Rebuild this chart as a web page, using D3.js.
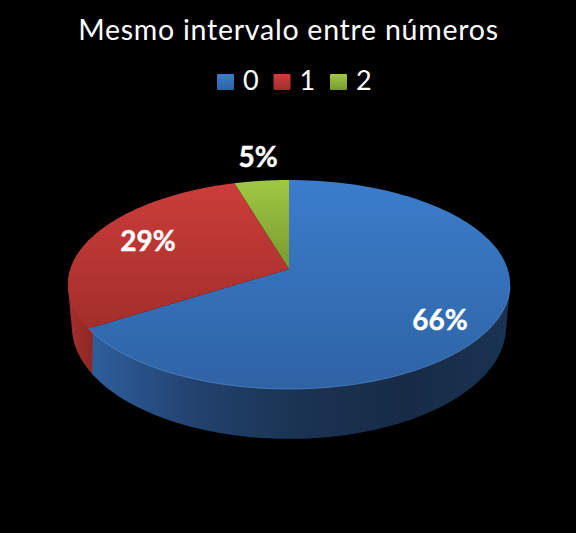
<!DOCTYPE html>
<html><head><meta charset="utf-8">
<script src="https://cdn.jsdelivr.net/npm/d3@7"></script>
<style>html,body{margin:0;padding:0;background:#000}svg{display:block}</style>
</head><body><div id="c"></div>
<script>
const categories = ["0","1","2"];
const values = [66, 29.4, 4.6];
const title = "Mesmo intervalo entre números";
const labelTexts = ["66%","29%","5%"];
const topColors = [["#3b7dcb","#2e63a5"],["#cc3d3a","#a32e2b"],["#a0c843","#78992f"]];
const sideStops = [["#2f5f9e","#22426f","#1a3352","#172b47","#1a3352"],["#a8302d","#8f2724"],["#78992f","#5f7a26"]];

const W=576,H=533,cx=289,cy=269,k=0.1483,ax=218.6,ay=102.2;
const svg=d3.select("#c").append("svg").attr("width",W).attr("height",H);
svg.append("rect").attr("width",W).attr("height",H).attr("fill","#000");
const defs=svg.append("defs");
topColors.forEach((c,i)=>{
  const g=defs.append("linearGradient").attr("id","t"+i).attr("gradientUnits","userSpaceOnUse")
    .attr("x1",0).attr("x2",0).attr("y1",180).attr("y2",389);
  if(i===1){g.attr("y1",180).attr("y2",330)}
  if(i===2){g.attr("y1",180).attr("y2",269)}
  g.append("stop").attr("offset","0%").attr("stop-color",c[0]);
  g.append("stop").attr("offset","100%").attr("stop-color",c[1]);
  const l=defs.append("linearGradient").attr("id","l"+i).attr("x1",0).attr("x2",0).attr("y1",0).attr("y2",1);
  l.append("stop").attr("offset","0%").attr("stop-color",c[0]);
  l.append("stop").attr("offset","100%").attr("stop-color",c[1]);
  const s=defs.append("linearGradient").attr("id","s"+i).attr("gradientUnits","userSpaceOnUse")
    .attr("x1",i===0?88:66).attr("x2",i===0?510:92).attr("y1",0).attr("y2",0);
  sideStops[i].forEach((col,j,a)=>s.append("stop").attr("offset",(j/(a.length-1)*100)+"%").attr("stop-color",col));
});

const proj=(a,bottom)=>{
  const u=Math.sin(a),v=Math.cos(a),w=1+k*v;
  const x=ax*u/w,y=-ay*v/w;
  return bottom?[cx+x*0.982,cy+y*1.074+41]:[cx+x,cy+y];
};
const arcs=d3.pie().sort(null)(values);
const samples=(a0,a1)=>d3.range(0,121).map(i=>a0+(a1-a0)*i/120);
const line=d3.line();

// walls: hull of the top and bottom rims over the front-facing angles
const wallRange=[[Math.PI*0.4,arcs[0].endAngle],[arcs[1].startAngle,Math.PI*1.6]];
wallRange.forEach((r,i)=>{
  const s=samples(r[0],r[1]);
  const pts=s.map(a=>proj(a,false)).concat(s.map(a=>proj(a,true)));
  svg.append("path").attr("d",line(d3.polygonHull(pts))+"Z").attr("fill",`url(#s${i})`);
});
// top slices
arcs.forEach((d,i)=>{
  const pts=[[cx,cy]].concat(samples(d.startAngle,d.endAngle).map(a=>proj(a,false)));
  svg.append("path").attr("d",line(pts)+"Z").attr("fill",`url(#t${i})`);
});
// light rim along the front of the blue slice
svg.append("path").attr("fill","none").attr("stroke","#5b93d6").attr("stroke-opacity",.6).attr("stroke-width",1)
  .attr("d",line(samples(Math.PI*0.55,arcs[0].endAngle).map(a=>proj(a,false))));

// title and legend
const font="Lato, 'Open Sans', sans-serif";
svg.append("text").attr("x",288.5).attr("y",40).attr("text-anchor","middle").attr("fill","#fff")
  .attr("font-family",font).attr("font-size",28.5).attr("letter-spacing",0.75).text(title);
const lx=d3.scalePoint().domain(categories).range([217,330]);
categories.forEach((c,i)=>{
  svg.append("rect").attr("x",lx(c)).attr("y",74).attr("width",17).attr("height",16).attr("rx",1)
    .attr("fill",`url(#l${i})`);
  svg.append("text").attr("x",lx(c)+26).attr("y",90).attr("fill","#fff")
    .attr("font-family",font).attr("font-size",27).text(c);
});
// data labels
const labelAt=[[440,320],[148,241],[258,157]];
labelTexts.forEach((t,i)=>{
  svg.append("text").attr("x",labelAt[i][0]).attr("y",labelAt[i][1]+10).attr("text-anchor","middle")
    .attr("fill","#fff").attr("stroke","#fff").attr("stroke-width",0.4).attr("font-family",font).attr("font-weight",700).attr("font-size",28).text(t);
});
</script></body></html>
